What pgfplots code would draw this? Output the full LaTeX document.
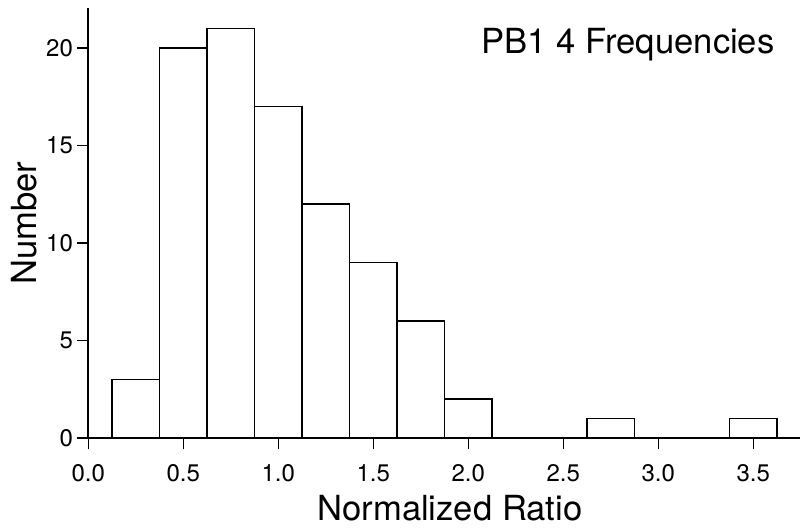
\documentclass[border=0pt]{standalone}
\usepackage{pgfplots}
\pgfplotsset{compat=1.18}
\usepackage{fontspec}
\setmainfont{TeX Gyre Heros}
\begin{document}
\begin{tikzpicture}
  \begin{axis}[
      at={(0,0)}, anchor=south west,
      scale only axis,
      width=355.85pt, height=215pt,
      xmin=0, xmax=3.746,
      ymin=0, ymax=22.05,
      axis x line*=bottom, axis y line*=left,
      axis line style={-, line width=0.8pt},
      tick align=outside, major tick length=5.5pt,
      tick style={black, line width=0.7pt},
      xtick={0,0.5,...,3.5}, ytick={0,5,10,15,20},
      /pgf/number format/assume math mode=true,
      tick label style={font=\fontsize{12}{14}\selectfont, inner sep=0pt},
      xticklabel style={/pgf/number format/fixed, /pgf/number format/fixed zerofill,
                        /pgf/number format/precision=1, anchor=base, yshift=-16pt},
      yticklabel style={anchor=east, xshift=-2pt},
      xlabel={Normalized Ratio}, ylabel={Number},
      label style={font=\fontsize{17.3}{20}\selectfont, inner sep=0pt},
      xlabel style={at={(axis description cs:0.508,0)}, anchor=base, yshift=-41pt},
      ylabel style={at={(axis description cs:0,0.5)}, anchor=base, yshift=25.8pt},
      clip=false,
    ]
    % bin left edges, last point closes the final bin
    \addplot[ybar interval, fill=white, draw=black, line width=0.6pt] coordinates {
      (0.125,3) (0.375,20) (0.625,21) (0.875,17) (1.125,12) (1.375,9)
      (1.625,6) (1.875,2) (2.125,0) (2.375,0) (2.625,1) (2.875,0)
      (3.125,0) (3.375,1) (3.625,1)
    };
    \node[anchor=base east, inner sep=0pt, font=\fontsize{17.3}{20}\selectfont]
      at (axis cs:3.614,19.73) {PB1 4 Frequencies};
  \end{axis}
  \pgfresetboundingbox
  \useasboundingbox (-44.15pt,-46pt) rectangle (356.35pt,219pt);
\end{tikzpicture}
\end{document}
